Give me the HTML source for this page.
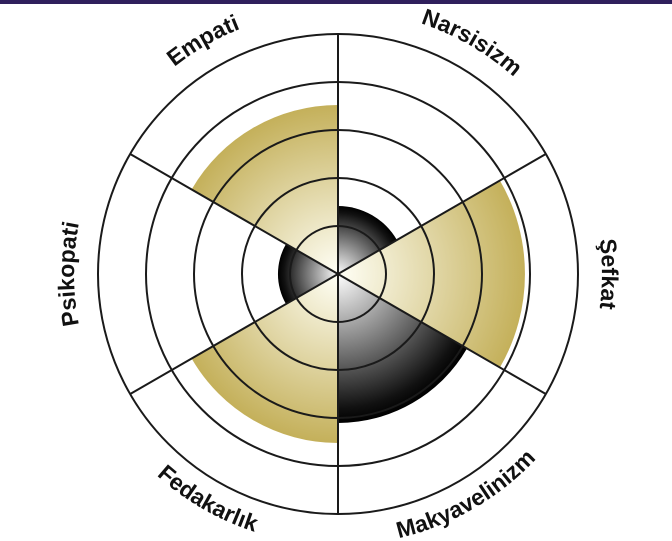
<!DOCTYPE html>
<html><head><meta charset="utf-8"><style>
html,body{margin:0;padding:0;background:#fff;width:672px;height:541px;overflow:hidden}
svg{display:block}
text{font-family:"Liberation Sans",sans-serif;font-weight:bold;font-size:23px;fill:#111}
</style></head><body>
<svg width="672" height="541" viewBox="0 0 672 541" xmlns="http://www.w3.org/2000/svg">
<defs>
<radialGradient id="g1" gradientUnits="userSpaceOnUse" cx="338" cy="274" r="187"><stop offset="0" stop-color="#fffff6"/><stop offset="1" stop-color="#c4b05a"/></radialGradient>
<radialGradient id="g2" gradientUnits="userSpaceOnUse" cx="338" cy="274" r="169"><stop offset="0" stop-color="#fffff6"/><stop offset="1" stop-color="#c4b05a"/></radialGradient>
<radialGradient id="d1" gradientUnits="userSpaceOnUse" cx="338" cy="274" r="68"><stop offset="0" stop-color="#fff"/><stop offset="0.9" stop-color="#111"/><stop offset="1" stop-color="#000"/></radialGradient>
<radialGradient id="d2" gradientUnits="userSpaceOnUse" cx="338" cy="274" r="149"><stop offset="0" stop-color="#fff"/><stop offset="0.9" stop-color="#111"/><stop offset="1" stop-color="#000"/></radialGradient>
<radialGradient id="d3" gradientUnits="userSpaceOnUse" cx="338" cy="274" r="60"><stop offset="0" stop-color="#fff"/><stop offset="0.9" stop-color="#111"/><stop offset="1" stop-color="#000"/></radialGradient>
<path id="pE" d="M74,274 A264,264 0 0 1 470,45.4"/>
<path id="pN" d="M206,45.4 A264,264 0 0 1 602,274"/>
<path id="pS" d="M470,45.4 A264,264 0 0 1 470,502.6"/>
<path id="pP" d="M206,502.6 A264,264 0 0 1 206,45.4"/>
<path id="pM" d="M202.5,508.7 A271,271 0 0 0 609,274"/>
<path id="pF" d="M67,274 A271,271 0 0 0 473.5,508.7"/>
</defs>
<rect x="0" y="0" width="672" height="4" fill="#2f1f5c"/>
<path d="M338,274 L338,206 A68,68 0 0 1 396.9,240 Z" fill="url(#d1)"/>
<path d="M338,274 L499.9,180.5 A187,187 0 0 1 499.9,367.5 Z" fill="url(#g1)"/>
<path d="M338,274 L467,348.5 A149,149 0 0 1 338,423 Z" fill="url(#d2)"/>
<path d="M338,274 L338,443 A169,169 0 0 1 191.6,358.5 Z" fill="url(#g2)"/>
<path d="M338,274 L286,304 A60,60 0 0 1 286,244 Z" fill="url(#d3)"/>
<path d="M338,274 L191.6,189.5 A169,169 0 0 1 338,105 Z" fill="url(#g2)"/>
<g fill="none" stroke="#1a1a1a" stroke-width="2">
<circle cx="338" cy="274" r="240"/>
<circle cx="338" cy="274" r="192"/>
<circle cx="338" cy="274" r="144"/>
<circle cx="338" cy="274" r="96"/>
<circle cx="338" cy="274" r="48"/>
<line x1="338" y1="34" x2="338" y2="514"/>
<line x1="545.8" y1="394" x2="130.2" y2="154"/>
<line x1="130.2" y1="394" x2="545.8" y2="154"/>
</g>
<text><textPath href="#pE" startOffset="50%" text-anchor="middle">Empati</textPath></text>
<text><textPath href="#pN" startOffset="50%" text-anchor="middle">Narsisizm</textPath></text>
<text><textPath href="#pS" startOffset="50%" text-anchor="middle">Şefkat</textPath></text>
<text><textPath href="#pP" startOffset="50%" text-anchor="middle">Psikopati</textPath></text>
<text><textPath href="#pM" startOffset="50%" text-anchor="middle">Makyavelinizm</textPath></text>
<text><textPath href="#pF" startOffset="50%" text-anchor="middle">Fedakarlık</textPath></text>
</svg>
</body></html>
